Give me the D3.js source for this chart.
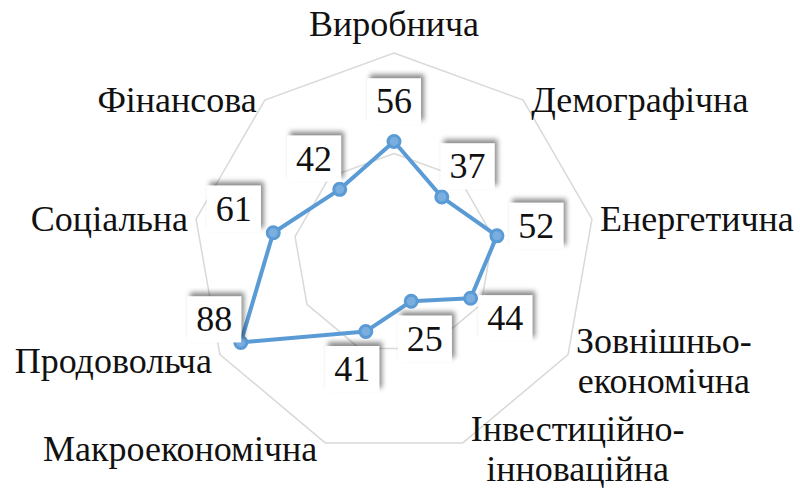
<!DOCTYPE html>
<html>
<head>
<meta charset="utf-8">
<script src="https://cdn.jsdelivr.net/npm/d3@7"></script>
<style>
  body { margin: 0; background: #fff; }
</style>
</head>
<body>
<div class="radar"></div>
<script>
const categories = ["Виробнича", "Демографічна", "Енергетична", "Зовнішньо-економічна",
	"Інвестиційно-інноваційна", "Макроекономічна", "Продовольча", "Соціальна", "Фінансова"];
const values = [56, 37, 52, 44, 25, 41, 88, 61, 42];
const ringTicks = [50, 100];

const width = 800;
const height = 488;
const cx = 394, cy = 254;
const radius = 201;
const fontSize = 36;
const fontFamily = '"Liberation Serif", "Times New Roman", serif';
const blue = "#5b9bd5";

const scaleR = d3.scaleLinear().domain([0, 100]).range([0, radius]);
const scaleAngle = d3.scaleLinear().domain([0, categories.length]).range([0, 2 * Math.PI]);

// a couple of labels Excel pushed off their radial spot
const labelNudge = { "Продовольча": [8, -43], "Соціальна": [0, -17], "Енергетична": [0, -3] };

const svg = d3.select(".radar").append("svg")
	.attr("width", width)
	.attr("height", height);

const defs = svg.append("defs");
defs.append("filter")
		.attr("id", "shadow")
		.attr("x", "-30%").attr("y", "-40%")
		.attr("width", "160%").attr("height", "180%")
	.append("feDropShadow")
		.attr("dx", 3).attr("dy", -4)
		.attr("stdDeviation", 2.5)
		.attr("flood-color", "#000")
		.attr("flood-opacity", 0.45);

const g = svg.append("g").attr("transform", `translate(${cx}, ${cy})`);

const point = (i, r) => {
	const a = scaleAngle(i);
	return [r * Math.sin(a), -r * Math.cos(a)];
};

// grid rings
const ring = d3.lineRadial()
	.angle((d, i) => scaleAngle(i))
	.radius((d) => d)
	.curve(d3.curveLinearClosed);

g.append("g").attr("class", "grid")
	.selectAll("path")
		.data(ringTicks).enter()
	.append("path")
		.attr("d", (t) => ring(categories.map(() => scaleR(t))))
		.attr("fill", "none")
		.attr("stroke", "#d9d9d9")
		.attr("stroke-width", 1.5);

// series
const line = d3.lineRadial()
	.angle((d, i) => scaleAngle(i))
	.radius((d) => scaleR(d))
	.curve(d3.curveLinearClosed);

g.append("path")
	.attr("d", line(values))
	.attr("fill", "none")
	.attr("stroke", blue)
	.attr("stroke-width", 4)
	.attr("stroke-linejoin", "round");

g.append("g").attr("class", "markers")
	.selectAll("circle")
		.data(values).enter()
	.append("circle")
		.attr("cx", (d, i) => point(i, scaleR(d))[0])
		.attr("cy", (d, i) => point(i, scaleR(d))[1])
		.attr("r", 6)
		.attr("fill", "#7aaede")
		.attr("stroke", blue)
		.attr("stroke-width", 3);

// data labels
const labels = g.append("g").attr("class", "data-labels")
	.selectAll("g")
		.data(values).enter()
	.append("g")
		.attr("transform", (d, i) => {
			const p = point(i, scaleR(d) + 40);
			const n = labelNudge[categories[i]] || [0, 0];
			return `translate(${p[0] + n[0]}, ${p[1] + n[1]})`;
		});

labels.append("rect")
	.attr("x", -27).attr("y", -23)
	.attr("width", 54).attr("height", 46)
	.attr("fill", "#fff")
	.attr("filter", "url(#shadow)");

labels.append("text")
	.attr("text-anchor", "middle")
	.attr("dy", 12)
	.style("font-family", fontFamily)
	.style("font-size", fontSize + "px")
	.style("fill", "#111")
	.text((d) => d);

// category labels
const lineHeight = 40;
const cats = g.append("g").attr("class", "categories")
	.selectAll("text")
		.data(categories).enter()
	.append("text")
		.style("font-family", fontFamily)
		.style("font-size", fontSize + "px")
		.style("fill", "#111");

cats.each(function(name, i) {
	const a = scaleAngle(i);
	const s = Math.sin(a), c = Math.cos(a);
	const v = point(i, radius);
	const parts = name.includes("-") ? [name.slice(0, name.indexOf("-") + 1), name.slice(name.indexOf("-") + 1)] : [name];
	const el = d3.select(this);
	const spans = el.selectAll("tspan").data(parts).enter().append("tspan").text((d) => d);
	const widths = [];
	spans.each(function() { widths.push(this.getComputedTextLength()); });
	const maxW = d3.max(widths);

	let left;
	if (Math.abs(s) < 0.1) left = v[0] - maxW / 2;
	else if (s > 0) left = v[0] + 8;
	else left = v[0] - 8 - maxW;

	let centerY = v[1] + (c < 0 ? 6 : 0);
	if (Math.abs(s) < 0.1 && c > 0) centerY = v[1] - 29;

	const first = centerY + 12 - (parts.length - 1) * lineHeight / 2;
	spans
		.attr("x", (d, j) => left + (maxW - widths[j]) / 2)
		.attr("y", (d, j) => first + j * lineHeight);
});
</script>
</body>
</html>
